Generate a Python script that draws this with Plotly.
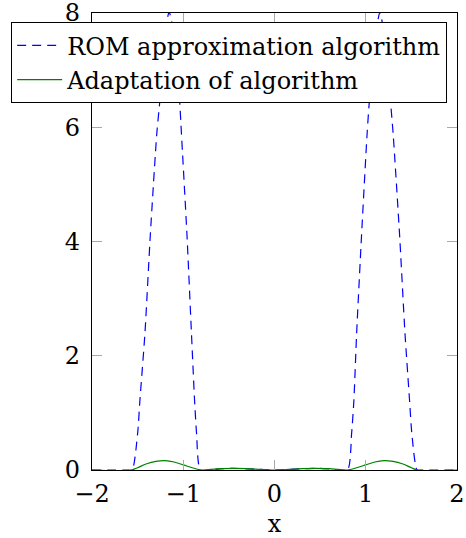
import plotly.graph_objects as go

# Data
x_rom = [-2.0, -1.62, -1.56, -1.50, -1.475, -1.42, -1.36, -1.29, -1.256, -1.21, -1.185, -1.155,
         -1.12, -1.09, -1.04, -1.02, -0.96, -0.91, -0.876, -0.854, -0.81,
         -0.6, -0.45, -0.3, -0.15, 0.0, 0.15, 0.3, 0.45, 0.6,
         0.80, 0.845, 0.87, 0.90, 0.955, 1.015, 1.04, 1.09, 1.125, 1.155, 1.185, 1.22,
         1.27, 1.30, 1.37, 1.43, 1.48, 1.505, 1.563, 1.62, 2.0]
y_rom = [0.0, 0.0, 0.0, 0.64, 1.22, 2.39, 4.14, 5.89, 6.47, 7.4, 7.8, 8.02,
         7.8, 7.4, 6.47, 5.89, 4.14, 2.39, 1.22, 0.64, 0.0,
         0.02, 0.03, 0.02, 0.01, 0.0, 0.01, 0.02, 0.03, 0.02,
         0.0, 0.64, 1.22, 2.39, 4.14, 5.89, 6.47, 7.4, 7.8, 8.02, 7.8, 7.4,
         6.47, 5.89, 4.14, 2.39, 1.22, 0.64, 0.0, 0.0, 0.0]

x_adapt = [-2.0, -1.57, -1.5, -1.4, -1.3, -1.2, -1.1, -1.0, -0.9, -0.8,
           -0.7, -0.6, -0.45, -0.3, -0.15, 0.0, 0.15, 0.3, 0.45, 0.6, 0.7,
           0.8, 0.9, 1.0, 1.1, 1.2, 1.3, 1.4, 1.5, 1.57, 2.0]
y_adapt = [0.0, 0.0, 0.04, 0.11, 0.15, 0.163, 0.14, 0.09, 0.04, 0.0,
           0.01, 0.025, 0.03, 0.025, 0.01, 0.0, 0.01, 0.025, 0.03, 0.025, 0.01,
           0.0, 0.04, 0.09, 0.14, 0.163, 0.15, 0.11, 0.04, 0.0, 0.0]

series_names = ["ROM approximation algorithm", "Adaptation of algorithm"]
x_ticks = [-2, -1, 0, 1, 2]
y_ticks = [0, 2, 4, 6, 8]

FONT = "DejaVu Serif, Liberation Serif, serif"
FS = 24

fig = go.Figure()
fig.add_trace(go.Scatter(x=x_rom, y=y_rom, mode="lines", name=series_names[0],
                         line=dict(color="rgb(0,0,255)", width=1.2, dash="9px,6px", shape="spline", smoothing=0.6)))
fig.add_trace(go.Scatter(x=x_adapt, y=y_adapt, mode="lines", name=series_names[1],
                         line=dict(color="rgb(0,128,0)", width=1.2, shape="spline", smoothing=0.8)))

axis_common = dict(showgrid=False, zeroline=False, showline=True, linecolor="black", linewidth=1.2,
                   mirror="allticks", ticks="inside", ticklen=10, tickcolor="rgb(170,170,170)", tickwidth=1.2,
                   ticklabeloverflow="allow",
                   tickfont=dict(family=FONT, size=FS, color="black"))

fig.update_xaxes(range=[-2, 2], tickvals=x_ticks, ticklabelstandoff=2,
                 title=dict(text="x", font=dict(family=FONT, size=FS, color="black"), standoff=8),
                 **axis_common)
fig.update_yaxes(range=[0, 8.0001], tickvals=y_ticks, ticklabelstandoff=6, **axis_common)

fig.update_layout(
    width=466, height=538,
    margin=dict(l=92, r=9, t=13, b=68, autoexpand=False),
    paper_bgcolor="white", plot_bgcolor="white",
    font=dict(family=FONT, size=FS, color="black"),
    showlegend=True,
    legend=dict(x=-0.222, y=0.98, xanchor="left", yanchor="top", xref="paper", yref="paper",
                bgcolor="white", bordercolor="black", borderwidth=1.2,
                font=dict(family=FONT, size=FS, color="black"), itemwidth=45,
                tracegroupgap=0),
)

fig.write_html("out.html")
